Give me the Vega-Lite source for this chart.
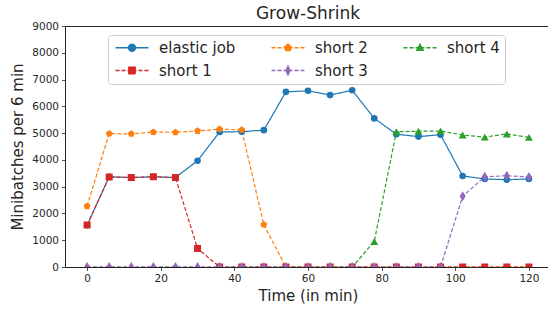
{
  "$schema": "https://vega.github.io/schema/vega-lite/v6.json",
  "autosize": {"type": "none"},
  "padding": {"left": 65, "top": 26, "right": 0, "bottom": 43},
  "width": 486,
  "height": 241,
  "background": "white",
  "title": {"text": "Grow-Shrink", "font": "DejaVu Sans", "fontSize": 17, "fontWeight": "normal", "color": "#262626", "offset": -2},
  "config": {
    "view": {"stroke": "#262626", "strokeWidth": 1},
    "axis": {"domainColor": "#262626", "tickColor": "#262626", "tickSize": 3.5, "tickWidth": 0.8, "domainWidth": 1, "labelFont": "DejaVu Sans", "labelFontSize": 10.5, "labelColor": "#262626", "titleFont": "DejaVu Sans", "titleFontSize": 15, "titleFontWeight": "normal", "titleColor": "#262626", "grid": false}
  },
  "data": {"values": [
    {"series": "elastic job", "t": 0, "v": 1560}, {"series": "elastic job", "t": 6, "v": 3370}, {"series": "elastic job", "t": 12, "v": 3340}, {"series": "elastic job", "t": 18, "v": 3370}, {"series": "elastic job", "t": 24, "v": 3340}, {"series": "elastic job", "t": 30, "v": 3970}, {"series": "elastic job", "t": 36, "v": 5040}, {"series": "elastic job", "t": 42, "v": 5055}, {"series": "elastic job", "t": 48, "v": 5110}, {"series": "elastic job", "t": 54, "v": 6540}, {"series": "elastic job", "t": 60, "v": 6580}, {"series": "elastic job", "t": 66, "v": 6420}, {"series": "elastic job", "t": 72, "v": 6600}, {"series": "elastic job", "t": 78, "v": 5550}, {"series": "elastic job", "t": 84, "v": 4960}, {"series": "elastic job", "t": 90, "v": 4870}, {"series": "elastic job", "t": 96, "v": 4940}, {"series": "elastic job", "t": 102, "v": 3400}, {"series": "elastic job", "t": 108, "v": 3290}, {"series": "elastic job", "t": 114, "v": 3260}, {"series": "elastic job", "t": 120, "v": 3290},
    {"series": "short 2", "t": 0, "v": 2270}, {"series": "short 2", "t": 6, "v": 4980}, {"series": "short 2", "t": 12, "v": 4970}, {"series": "short 2", "t": 18, "v": 5040}, {"series": "short 2", "t": 24, "v": 5030}, {"series": "short 2", "t": 30, "v": 5080}, {"series": "short 2", "t": 36, "v": 5150}, {"series": "short 2", "t": 42, "v": 5120}, {"series": "short 2", "t": 48, "v": 1580}, {"series": "short 2", "t": 54, "v": 0}, {"series": "short 2", "t": 60, "v": 0}, {"series": "short 2", "t": 66, "v": 0}, {"series": "short 2", "t": 72, "v": 0}, {"series": "short 2", "t": 78, "v": 0}, {"series": "short 2", "t": 84, "v": 0}, {"series": "short 2", "t": 90, "v": 0}, {"series": "short 2", "t": 96, "v": 0}, {"series": "short 2", "t": 102, "v": 0}, {"series": "short 2", "t": 108, "v": 0}, {"series": "short 2", "t": 114, "v": 0}, {"series": "short 2", "t": 120, "v": 0},
    {"series": "short 4", "t": 0, "v": 0}, {"series": "short 4", "t": 6, "v": 0}, {"series": "short 4", "t": 12, "v": 0}, {"series": "short 4", "t": 18, "v": 0}, {"series": "short 4", "t": 24, "v": 0}, {"series": "short 4", "t": 30, "v": 0}, {"series": "short 4", "t": 36, "v": 0}, {"series": "short 4", "t": 42, "v": 0}, {"series": "short 4", "t": 48, "v": 0}, {"series": "short 4", "t": 54, "v": 0}, {"series": "short 4", "t": 60, "v": 0}, {"series": "short 4", "t": 66, "v": 0}, {"series": "short 4", "t": 72, "v": 0}, {"series": "short 4", "t": 78, "v": 950}, {"series": "short 4", "t": 84, "v": 5050}, {"series": "short 4", "t": 90, "v": 5070}, {"series": "short 4", "t": 96, "v": 5080}, {"series": "short 4", "t": 102, "v": 4930}, {"series": "short 4", "t": 108, "v": 4850}, {"series": "short 4", "t": 114, "v": 4970}, {"series": "short 4", "t": 120, "v": 4840},
    {"series": "short 1", "t": 0, "v": 1570}, {"series": "short 1", "t": 6, "v": 3360}, {"series": "short 1", "t": 12, "v": 3340}, {"series": "short 1", "t": 18, "v": 3370}, {"series": "short 1", "t": 24, "v": 3340}, {"series": "short 1", "t": 30, "v": 690}, {"series": "short 1", "t": 36, "v": 0}, {"series": "short 1", "t": 42, "v": 0}, {"series": "short 1", "t": 48, "v": 0}, {"series": "short 1", "t": 54, "v": 0}, {"series": "short 1", "t": 60, "v": 0}, {"series": "short 1", "t": 66, "v": 0}, {"series": "short 1", "t": 72, "v": 0}, {"series": "short 1", "t": 78, "v": 0}, {"series": "short 1", "t": 84, "v": 0}, {"series": "short 1", "t": 90, "v": 0}, {"series": "short 1", "t": 96, "v": 0}, {"series": "short 1", "t": 102, "v": 0}, {"series": "short 1", "t": 108, "v": 0}, {"series": "short 1", "t": 114, "v": 0}, {"series": "short 1", "t": 120, "v": 0},
    {"series": "short 3", "t": 0, "v": 0}, {"series": "short 3", "t": 6, "v": 0}, {"series": "short 3", "t": 12, "v": 0}, {"series": "short 3", "t": 18, "v": 0}, {"series": "short 3", "t": 24, "v": 0}, {"series": "short 3", "t": 30, "v": 0}, {"series": "short 3", "t": 36, "v": 0}, {"series": "short 3", "t": 42, "v": 0}, {"series": "short 3", "t": 48, "v": 0}, {"series": "short 3", "t": 54, "v": 0}, {"series": "short 3", "t": 60, "v": 0}, {"series": "short 3", "t": 66, "v": 0}, {"series": "short 3", "t": 72, "v": 0}, {"series": "short 3", "t": 78, "v": 0}, {"series": "short 3", "t": 84, "v": 0}, {"series": "short 3", "t": 90, "v": 0}, {"series": "short 3", "t": 96, "v": 0}, {"series": "short 3", "t": 102, "v": 2640}, {"series": "short 3", "t": 108, "v": 3370}, {"series": "short 3", "t": 114, "v": 3410}, {"series": "short 3", "t": 120, "v": 3360}
  ]},
  "encoding": {
    "x": {"field": "t", "type": "quantitative", "title": "Time (in min)", "scale": {"domain": [-6, 126], "nice": false, "zero": false}, "axis": {"values": [0, 20, 40, 60, 80, 100, 120], "labelPadding": 3, "titlePadding": 4}},
    "y": {"field": "v", "type": "quantitative", "title": "Minibatches per 6 min", "scale": {"domain": [0, 9000], "nice": false}, "axis": {"values": [0, 1000, 2000, 3000, 4000, 5000, 6000, 7000, 8000, 9000], "format": "d", "labelPadding": 3, "titlePadding": 6}},
    "color": {"field": "series", "type": "nominal", "scale": {"domain": ["elastic job", "short 1", "short 2", "short 3", "short 4"], "range": ["#1f77b4", "#d62728", "#ff7f0e", "#9467bd", "#2ca02c"]},
      "legend": {"title": null, "orient": "none", "legendX": 43, "legendY": 9, "columns": 3, "columnPadding": 32, "rowPadding": 7, "padding": 5, "labelFont": "DejaVu Sans", "labelFontSize": 15, "labelColor": "#262626", "labelOffset": 31, "symbolSize": 100, "symbolStrokeWidth": 1.3, "strokeColor": "#cccccc", "cornerRadius": 3, "fillColor": "rgba(255,255,255,0.8)",
        "encode": {"symbols": {"update": {
          "shape": {"signal": "datum.value === 'elastic job' ? 'M-1,0H5.6M3.0,0A0.7,0.7 0 1 1 1.6,0A0.7,0.7 0 1 1 3.0,0Z' : datum.value === 'short 1' ? 'M-1,0H-0.2M0.2,0H1M1.4,0H3.2M3.6,0H4.4M4.8,0H5.6M1.65,-0.65H2.95V0.65H1.65Z' : datum.value === 'short 2' ? 'M-1,0H-0.2M0.2,0H1M1.4,0H3.2M3.6,0H4.4M4.8,0H5.6M2.3,-0.72L2.985,-0.223L2.723,0.583L1.877,0.583L1.615,-0.223Z' : datum.value === 'short 3' ? 'M-1,0H-0.2M0.2,0H1M1.4,0H3.2M3.6,0H4.4M4.8,0H5.6M2.3,-0.9L2.72,0L2.3,0.9L1.88,0Z' : 'M-1,0H-0.2M0.2,0H1M1.4,0H3.2M3.6,0H4.4M4.8,0H5.6M2.3,-0.72L2.95,0.52L1.65,0.52Z'"},
          "size": {"value": 100},
          "fill": {"scale": "color", "field": "value"},
          "stroke": {"scale": "color", "field": "value"},
          "strokeDash": {"value": [1, 0]},
          "opacity": {"value": 1}
        }}}
      }
    }
  },
  "layer": [
    {
      "mark": {"type": "line", "clip": true, "strokeWidth": 1.2},
      "encoding": {
        "strokeDash": {"condition": {"test": "datum.series === 'elastic job'", "value": [1, 0]}, "value": [4, 2]}
      }
    },
    {
      "mark": {"type": "point", "filled": true, "opacity": 1, "clip": true},
      "encoding": {
        "shape": {"condition": [{"test": "datum.series === 'elastic job'", "value": "circle"}, {"test": "datum.series === 'short 1'", "value": "square"}, {"test": "datum.series === 'short 2'", "value": "M0,-1L0.951,-0.309L0.588,0.809L-0.588,0.809L-0.951,-0.309Z"}, {"test": "datum.series === 'short 3'", "value": "M0,-1L0.6,0L0,1L-0.6,0Z"}], "value": "triangle-up"},
        "size": {"condition": [{"test": "datum.series === 'elastic job'", "value": 44}, {"test": "datum.series === 'short 1'", "value": 49}, {"test": "datum.series === 'short 2'", "value": 52}, {"test": "datum.series === 'short 3'", "value": 100}], "value": 64}
      }
    }
  ]
}
